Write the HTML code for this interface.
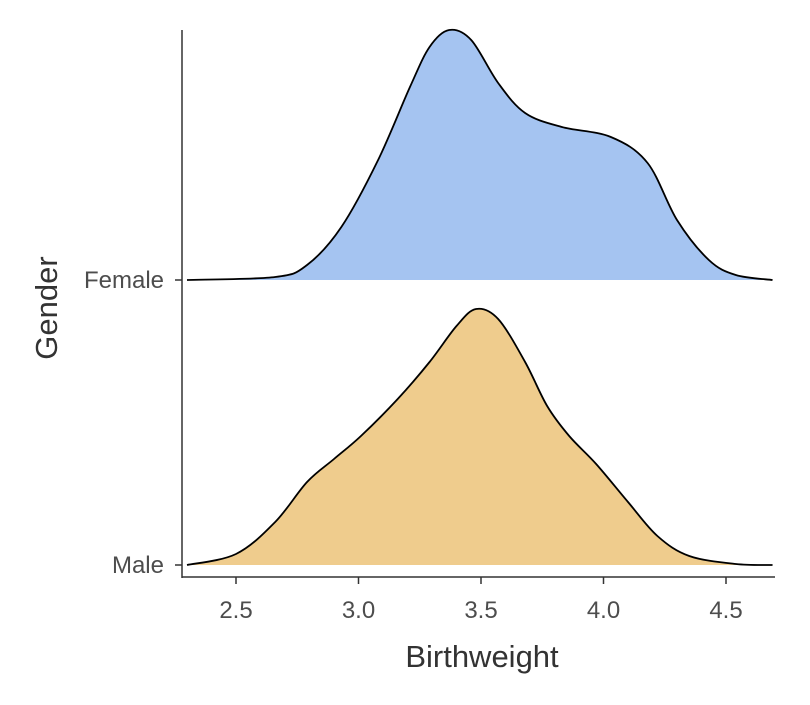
<!DOCTYPE html>
<html><head><meta charset="utf-8"><style>
body{margin:0;background:#fff}
svg text{font-family:"Liberation Sans",sans-serif}
</style></head><body>
<svg id="chart" width="810" height="700">
<g id="ridges"></g>
<g id="axes"></g>
</svg>
<script>
const groups = ["Female", "Male"];
const femaleX = [2.30,2.66,2.79,2.93,3.08,3.21,3.29,3.37,3.46,3.57,3.68,3.83,4.03,4.18,4.30,4.43,4.54,4.69];
const femaleD = [0,0.03,0.15,0.53,1.20,1.93,2.33,2.50,2.40,1.97,1.67,1.53,1.43,1.17,0.60,0.20,0.05,0];
const maleX = [2.30,2.50,2.66,2.79,2.90,3.01,3.16,3.29,3.40,3.48,3.57,3.68,3.77,3.86,3.97,4.10,4.22,4.35,4.54,4.69];
const maleD = [0,0.11,0.43,0.83,1.06,1.29,1.66,2.03,2.39,2.56,2.46,2.03,1.59,1.29,1.01,0.63,0.29,0.09,0.01,0];
const xTicks = [2.5,3.0,3.5,4.0,4.5];
const xTickLabels = ["2.5","3.0","3.5","4.0","4.5"];

const NS="http://www.w3.org/2000/svg";
const sx = v => 236 + (v-2.5)*245;
const baseY = {Female:280, Male:565};
const sy = (g,d) => baseY[g] - d*100;
function mk(tag, attrs, parent){const e=document.createElementNS(NS,tag);for(const k in attrs)e.setAttribute(k,attrs[k]);parent.appendChild(e);return e;}
function spline(pts){
  let d=`M${pts[0][0]},${pts[0][1]}`;
  for(let i=0;i<pts.length-1;i++){
    const p0=pts[Math.max(0,i-1)],p1=pts[i],p2=pts[i+1],p3=pts[Math.min(pts.length-1,i+2)];
    const c1=[p1[0]+(p2[0]-p0[0])/6,p1[1]+(p2[1]-p0[1])/6];
    const c2=[p2[0]-(p3[0]-p1[0])/6,p2[1]-(p3[1]-p1[1])/6];
    d+=`C${c1[0]},${c1[1]} ${c2[0]},${c2[1]} ${p2[0]},${p2[1]}`;
  }
  return d;
}
const ridges=document.getElementById('ridges');
const series={Female:[femaleX,femaleD,"#A5C4F1"],Male:[maleX,maleD,"#EFCC8D"]};
groups.forEach(g=>{
  const [xs,ds,col]=series[g];
  const pts=xs.map((x,i)=>[sx(x),sy(g,ds[i])]);
  const line=spline(pts);
  const area=mk('path',{d:line+`L${pts[pts.length-1][0]},${baseY[g]}L${pts[0][0]},${baseY[g]}Z`,fill:col,stroke:'none'},ridges);
  
  
  const ln=mk('path',{d:line,fill:'none',stroke:'#000','stroke-width':1.8},ridges);
  
  
});
const ax=document.getElementById('axes');
const yl=mk('line',{x1:182,y1:30,x2:182,y2:578,stroke:'#333','stroke-width':1.5},ax);


const xl=mk('line',{x1:181.5,y1:577,x2:775,y2:577,stroke:'#333','stroke-width':1.5},ax);


xTicks.forEach((t,i)=>{
  const tk=mk('line',{x1:sx(t),y1:577,x2:sx(t),y2:584,stroke:'#333','stroke-width':1.5},ax);
  
  
  const tl=mk('text',{x:sx(t),y:618,'text-anchor':'middle','font-size':24,fill:'#4d4d4d'},ax);
  tl.textContent=xTickLabels[i];
  
  
});
groups.forEach(g=>{
  const tk=mk('line',{x1:175,y1:baseY[g],x2:182,y2:baseY[g],stroke:'#333','stroke-width':1.5},ax);
  
  
  const tl=mk('text',{x:164,y:baseY[g]+8,'text-anchor':'end','font-size':24,fill:'#4d4d4d'},ax);
  tl.textContent=g;
  
  
});
const xt=mk('text',{x:482,y:667,'text-anchor':'middle','font-size':31,fill:'#333'},ax);
xt.textContent="Birthweight";


const yt=mk('text',{x:0,y:0,'text-anchor':'middle','font-size':31,fill:'#333',transform:'translate(57,308) rotate(-90)'},ax);
yt.textContent="Gender";


</script>
</body></html>
